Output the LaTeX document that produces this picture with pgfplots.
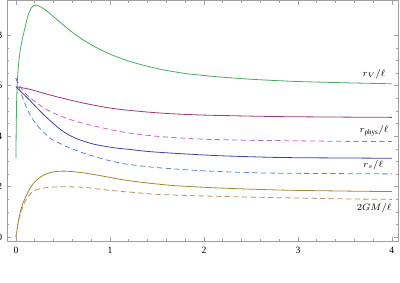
\documentclass[border=0pt]{standalone}
\usepackage{fontspec}
\setmainfont{Liberation Serif}
\usepackage{pgfplots}
\pgfplotsset{compat=1.18}
\definecolor{cgreen}{rgb}{0.30,0.66,0.40}
\definecolor{cpurple}{rgb}{0.62,0.22,0.46}
\definecolor{cmag}{rgb}{0.74,0.42,0.76}
\definecolor{cblue}{rgb}{0.26,0.26,0.64}
\definecolor{cbluel}{rgb}{0.38,0.52,0.80}
\definecolor{colive}{rgb}{0.62,0.54,0.20}
\definecolor{cbrown}{rgb}{0.72,0.56,0.40}
\begin{document}
\begin{tikzpicture}
\begin{axis}[
  name=ax,
  scale only axis,
  width=293.25pt, height=180.4pt,
  xmin=-0.095, xmax=4.065, ymin=-0.15, ymax=9.38,
  xtick={0,1,2,3,4}, ytick={0,2,4,6,8},
  minor x tick num=4, minor y tick num=3,
  tick align=inside,
  major tick length=3.2pt, minor tick length=1.8pt,
  axis line style={gray!75, line width=0.5pt},
  every tick/.style={gray!75, line width=0.5pt},
  tick label style={font=\fontsize{7.2}{8}\selectfont},
  /pgf/number format/assume math mode=true,
  xticklabel style={yshift=-1pt},
  clip=true,
  every axis plot/.append style={line width=0.6pt, smooth},
]
% r_V
\addplot[cgreen] coordinates {
(0,3.13)(0.003,4.3)(0.007,5.3)(0.013,6.0)(0.022,6.6)(0.035,7.1)(0.05,7.5)(0.07,7.88)(0.09,8.2)(0.11,8.52)(0.13,8.8)(0.16,9.07)(0.2,9.2)(0.25,9.15)(0.3,9.04)(0.35,8.9)(0.4,8.74)(0.5,8.42)(0.6,8.12)(0.7,7.86)(0.8,7.63)(0.9,7.43)(1.0,7.26)(1.1,7.11)(1.2,6.98)(1.3,6.87)(1.46,6.72)(1.6,6.61)(1.82,6.48)(2.0,6.41)(2.17,6.35)(2.5,6.26)(2.81,6.2)(3.0,6.17)(3.5,6.12)(4.0,6.08)};
% r_phys solid
\addplot[cpurple] coordinates {
(0,5.96)(0.05,5.93)(0.1,5.9)(0.18,5.83)(0.3,5.7)(0.4,5.6)(0.54,5.47)(0.7,5.33)(0.89,5.19)(1.0,5.12)(1.1,5.07)(1.2,5.03)(1.4,4.96)(1.67,4.89)(2.0,4.84)(2.24,4.82)(2.81,4.78)(3.5,4.76)(4.0,4.75)};
% r_phys dashed
\addplot[cmag, dash pattern=on 4pt off 2.5pt] coordinates {
(0,6.3)(0.05,5.95)(0.1,5.7)(0.18,5.44)(0.3,5.12)(0.4,4.92)(0.54,4.71)(0.7,4.53)(0.89,4.36)(1.1,4.19)(1.2,4.13)(1.5,4.0)(1.96,3.89)(2.5,3.84)(2.77,3.83)(3.5,3.8)(4.0,3.79)};
% r_s solid
\addplot[cblue] coordinates {
(0,5.96)(0.1,5.6)(0.15,5.42)(0.2,5.22)(0.3,4.84)(0.4,4.5)(0.47,4.28)(0.55,4.08)(0.65,3.9)(0.75,3.77)(0.85,3.67)(1.0,3.57)(1.1,3.52)(1.21,3.48)(1.4,3.4)(1.67,3.33)(2.0,3.26)(2.24,3.22)(2.81,3.16)(3.5,3.14)(4.0,3.13)};
% r_s dashed
\addplot[cbluel, dash pattern=on 4pt off 2.5pt] coordinates {
(0,6.3)(0.05,5.75)(0.1,5.25)(0.149,4.86)(0.2,4.56)(0.27,4.25)(0.36,3.94)(0.45,3.75)(0.54,3.59)(0.7,3.36)(0.89,3.14)(1.0,3.03)(1.1,2.95)(1.21,2.88)(1.5,2.76)(1.96,2.64)(2.4,2.57)(2.77,2.54)(3.5,2.52)(4.0,2.51)};
% 2GM solid
\addplot[colive] coordinates {
(0,0)(0.02,0.5)(0.043,0.95)(0.07,1.3)(0.11,1.65)(0.16,2.0)(0.22,2.27)(0.3,2.47)(0.4,2.59)(0.5,2.62)(0.6,2.6)(0.72,2.55)(0.9,2.44)(1.1,2.3)(1.21,2.24)(1.4,2.15)(1.67,2.05)(2.0,1.98)(2.24,1.94)(2.81,1.87)(3.5,1.83)(4.0,1.81)};
% 2GM dashed
\addplot[cbrown, dash pattern=on 4pt off 2.5pt] coordinates {
(0,0)(0.02,0.5)(0.05,0.95)(0.096,1.41)(0.14,1.66)(0.18,1.81)(0.25,1.92)(0.36,1.98)(0.5,2.0)(0.72,1.98)(0.9,1.9)(1.1,1.82)(1.21,1.79)(1.5,1.7)(1.96,1.64)(2.4,1.6)(2.77,1.57)(3.5,1.52)(4.0,1.5)};
\node[font=\fontsize{7.5}{8}\selectfont] at (axis cs:3.81,6.47) {$r_V/\ell$};
\node[font=\fontsize{7.5}{8}\selectfont] at (axis cs:3.81,4.21) {$r_{\mathrm{phys}}/\ell$};
\node[font=\fontsize{7.5}{8}\selectfont] at (axis cs:3.80,2.86) {$r_s/\ell$};
\node[font=\fontsize{7.5}{8}\selectfont] at (axis cs:3.81,1.14) {$2GM/\ell$};
\node[font=\fontsize{7.5}{8}\selectfont] at ([yshift=-21.75pt]rel axis cs:0.5,0) {$\bar{\rho}(0)$};
\end{axis}
\pgfresetboundingbox
\path[use as bounding box] ([xshift=-5.25pt,yshift=-30.75pt]ax.south west) rectangle ([xshift=1.5pt,yshift=0.375pt]ax.north east);
\end{tikzpicture}
\end{document}
